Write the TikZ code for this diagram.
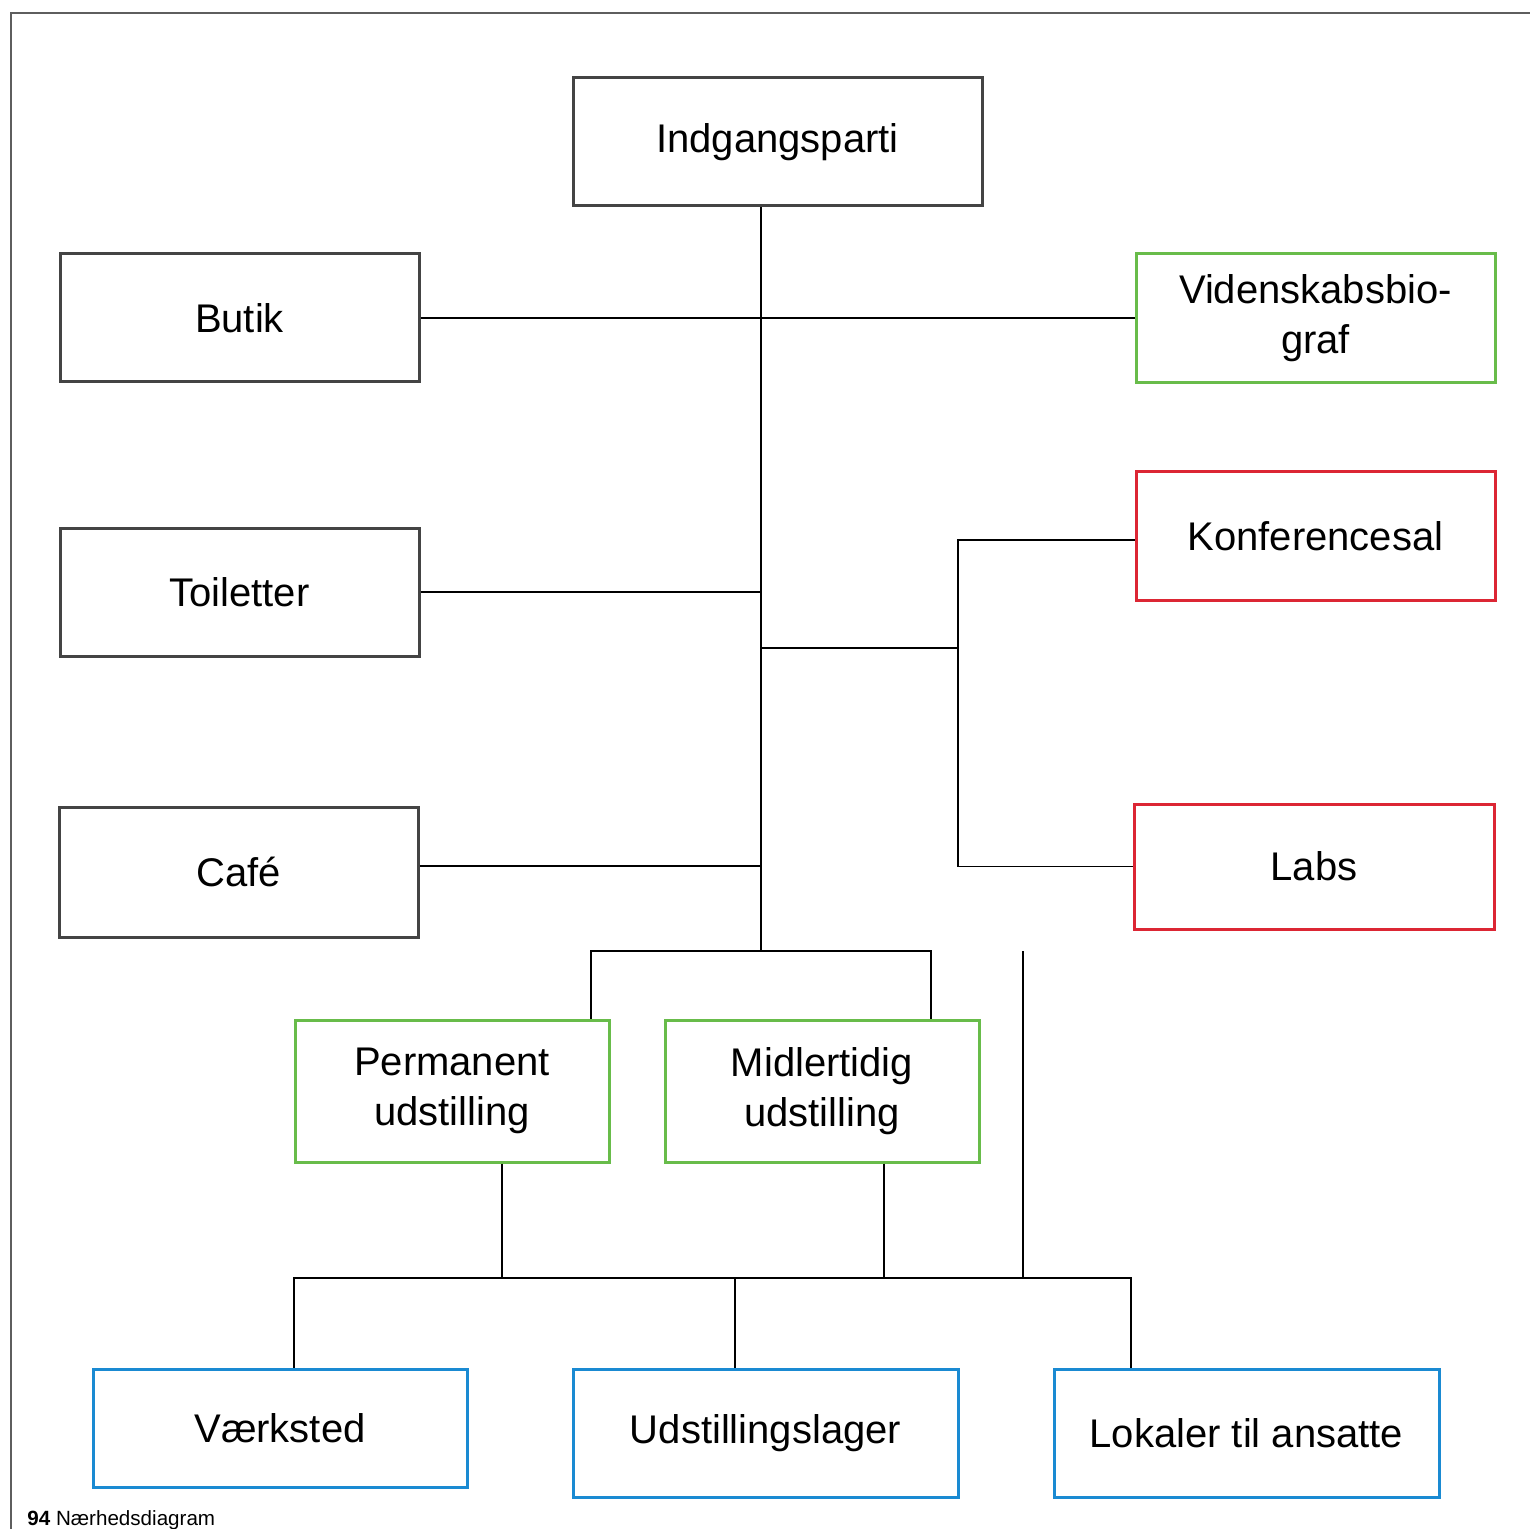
\documentclass[tikz,border=0pt]{standalone}
\usepackage{fontspec}
\setmainfont{Liberation Sans}
\definecolor{pageline}{HTML}{5E5E5E}
\definecolor{roomgray}{HTML}{444444}
\definecolor{roomgreen}{HTML}{68BC4A}
\definecolor{roomred}{HTML}{DC2634}
\definecolor{roomblue}{HTML}{1A8AD2}
\usetikzlibrary{positioning}
\tikzset{
    room/.style={
        draw=roomgray, line width=1.5pt,
        align=center, inner sep=0pt,
        font=\fontsize{20}{25}\selectfont
    },
    exhibit/.style={room, draw=roomgreen},
    closed/.style={room, draw=roomred},
    backstage/.style={room, draw=roomblue},
    link/.style={line width=0.75pt, black},
}

\begin{document}
\begin{tikzpicture}[x=0.5pt, y=-0.5pt]
    \useasboundingbox (0,0) rectangle (1530,1529);
    \draw[pageline, line width=1pt] (11,1529) -- (11,13) -- (1530,13);

    % public rooms
    \node[room, minimum width=204.5pt, minimum height=64pt] (indgang) at (777.5,142) {Indgangsparti};
    \node[room, minimum width=179.5pt, minimum height=64pt] (butik) at (239.5,318) {Butik};
    \node[room, minimum width=179.5pt, minimum height=64pt] (toilet) at (239.5,592) {Toiletter};
    \node[room, minimum width=179.5pt, minimum height=65pt] (cafe) at (238.5,872) {Café};
    \node[exhibit, minimum width=179.5pt, minimum height=64.5pt] (biograf) at (1315.5,318.5) {Videnskabsbio-\\graf};
    \node[closed, minimum width=179.5pt, minimum height=64pt] (konf) at (1315.5,536) {Konferencesal};
    \node[closed, minimum width=180pt, minimum height=62.5pt] (labs) at (1314,866.5) {Labs};
    \node[exhibit, minimum width=157pt, minimum height=71pt] (perm) at (452,1091) {Permanent\\udstilling};
    \node[exhibit, minimum width=157pt, minimum height=71pt] (midl) at (822,1091) {Midlertidig\\udstilling};

    % back of house
    \node[backstage, minimum width=187pt, minimum height=59pt] (vaerk) at (280,1428) {Værksted};
    \node[backstage, minimum width=192.5pt, minimum height=64pt] (lager) at (765.5,1433) {Udstillingslager};
    \node[backstage, minimum width=192.5pt, minimum height=64pt] (lokal) at (1246.5,1433) {Lokaler til ansatte};

    \node[anchor=base west, inner sep=0pt, font=\fontsize{10.3}{12}\selectfont] (folio) at (27,1525) {\textbf{94} Nærhedsdiagram};

    % junctions
    \coordinate (trunk) at (761,951);
    \coordinate (fork) at (958,648);
    \coordinate (pl) at (591,951);
    \coordinate (pr) at (931,951);
    \coordinate (staff) at (1023,951);
    \coordinate (busl) at (294,1278);
    \coordinate (busm) at (735,1278);
    \coordinate (busr) at (1131,1278);
    \coordinate (dropl) at (502,1278);
    \coordinate (dropr) at (884,1278);

    \draw[link] (indgang.south -| trunk) -- (trunk);
    \draw[link] (butik.east) -- (butik.east -| biograf.west);
    \draw[link] (toilet.east) -- (toilet.east -| trunk);
    \draw[link] ([yshift=3pt]cafe.east) -- ([yshift=3pt]cafe.east -| trunk);
    \draw[link] (trunk |- fork) -- (fork);
    \draw[link] ([yshift=-2pt]konf.west) -- ([yshift=-2pt]konf.west -| fork) -- (labs.west -| fork) -- (labs.west);
    \draw[link] (perm.north -| pl) -- (pl) -- (pr) -- (midl.north -| pr);
    \draw[link] (staff) -- (staff |- busl);
    \draw[link] (vaerk.north -| busl) -- (busl) -- (busr) -- (lokal.north -| busr);
    \draw[link] (busm) -- (lager.north -| busm);
    \draw[link] (perm.south -| dropl) -- (dropl);
    \draw[link] (midl.south -| dropr) -- (dropr);
\end{tikzpicture}
\end{document}
